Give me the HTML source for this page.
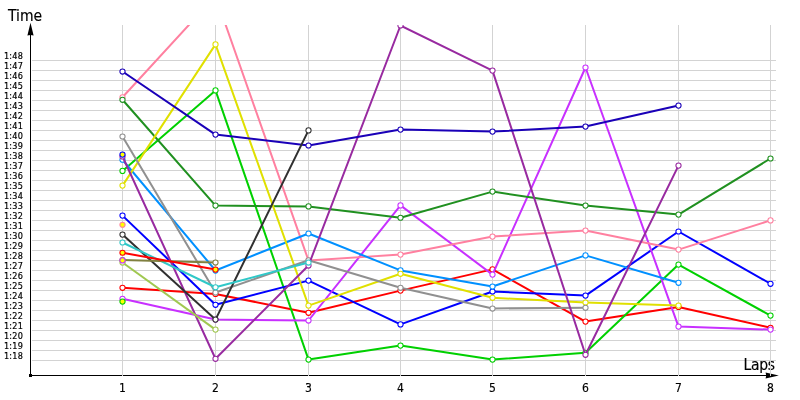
<!DOCTYPE html>
<html lang="en">
<head>
<meta charset="utf-8">
<title>Lap times</title>
<style>
html,body{margin:0;padding:0;background:#fff;}
body{width:800px;height:400px;overflow:hidden;font-family:"Liberation Sans",sans-serif;}
svg{display:block;}
text{font-family:"DejaVu Sans Condensed","Liberation Sans",sans-serif;fill:#000;stroke:#000;}
.yl{font-size:9px;stroke-width:0.2px;letter-spacing:0.2px;}
.xl{font-size:12px;text-anchor:middle;stroke-width:0.15px;}
.t{font-size:15.5px;stroke-width:0.15px;}
.s polyline{stroke-width:2;fill:none;stroke-linejoin:round;}
.s circle{stroke-width:1.05;fill:#fff;}
.s circle.y{fill:#ffff00;}
</style>
</head>
<body>
<svg width="800" height="400" viewBox="0 0 800 400" role="img" aria-label="Lap time chart">
<defs><clipPath id="plot"><rect x="30" y="25" width="760" height="352"/></clipPath></defs>
<rect width="800" height="400" fill="#fff"/>

<g stroke="#d3d3d3" stroke-width="1" shape-rendering="crispEdges">
<line x1="32" y1="60.5" x2="776" y2="60.5"/>
<line x1="32" y1="70.5" x2="776" y2="70.5"/>
<line x1="32" y1="80.5" x2="776" y2="80.5"/>
<line x1="32" y1="90.5" x2="776" y2="90.5"/>
<line x1="32" y1="100.5" x2="776" y2="100.5"/>
<line x1="32" y1="110.5" x2="776" y2="110.5"/>
<line x1="32" y1="120.5" x2="776" y2="120.5"/>
<line x1="32" y1="130.5" x2="776" y2="130.5"/>
<line x1="32" y1="140.5" x2="776" y2="140.5"/>
<line x1="32" y1="150.5" x2="776" y2="150.5"/>
<line x1="32" y1="160.5" x2="776" y2="160.5"/>
<line x1="32" y1="170.5" x2="776" y2="170.5"/>
<line x1="32" y1="180.5" x2="776" y2="180.5"/>
<line x1="32" y1="190.5" x2="776" y2="190.5"/>
<line x1="32" y1="200.5" x2="776" y2="200.5"/>
<line x1="32" y1="210.5" x2="776" y2="210.5"/>
<line x1="32" y1="220.5" x2="776" y2="220.5"/>
<line x1="32" y1="230.5" x2="776" y2="230.5"/>
<line x1="32" y1="240.5" x2="776" y2="240.5"/>
<line x1="32" y1="250.5" x2="776" y2="250.5"/>
<line x1="32" y1="260.5" x2="776" y2="260.5"/>
<line x1="32" y1="270.5" x2="776" y2="270.5"/>
<line x1="32" y1="280.5" x2="776" y2="280.5"/>
<line x1="32" y1="290.5" x2="776" y2="290.5"/>
<line x1="32" y1="300.5" x2="776" y2="300.5"/>
<line x1="32" y1="310.5" x2="776" y2="310.5"/>
<line x1="32" y1="320.5" x2="776" y2="320.5"/>
<line x1="32" y1="330.5" x2="776" y2="330.5"/>
<line x1="32" y1="340.5" x2="776" y2="340.5"/>
<line x1="32" y1="350.5" x2="776" y2="350.5"/>
<line x1="32" y1="360.5" x2="776" y2="360.5"/>
</g>
<g fill="#000" shape-rendering="crispEdges">
<rect x="30" y="35" width="1" height="341"/>
<rect x="30" y="375" width="737" height="1"/>
<rect x="29" y="374" width="3" height="3"/>
</g>
<polygon points="30.5,22.7 33.6,35.6 30.5,35 27.4,35.6" fill="#000"/>
<polygon points="778.8,375.5 765.6,378.6 766.2,375.5 765.6,372.4" fill="#000"/>
<text class="t" x="8" y="20.6">Time</text>
<text class="t" x="743.6" y="369.5" style="letter-spacing:-0.3px">Laps</text>
<g stroke="#d3d3d3" stroke-width="1" shape-rendering="crispEdges">
<line x1="122.5" y1="25" x2="122.5" y2="376"/>
<line x1="215.5" y1="25" x2="215.5" y2="376"/>
<line x1="308.5" y1="25" x2="308.5" y2="376"/>
<line x1="400.5" y1="25" x2="400.5" y2="376"/>
<line x1="492.5" y1="25" x2="492.5" y2="376"/>
<line x1="585.5" y1="25" x2="585.5" y2="376"/>
<line x1="678.5" y1="25" x2="678.5" y2="376"/>
<line x1="770.5" y1="25" x2="770.5" y2="376"/>
</g>
<g class="s" clip-path="url(#plot)">
<g stroke="#ff0000">
<polyline points="122.5,287.75 215.5,293.9 308.5,312.75 400.5,290.6 492.5,269.4 585.5,321.6 678.5,306.9 770.5,327.75"/>
<circle cx="122.5" cy="287.75" r="2.6"/>
<circle cx="215.5" cy="293.9" r="2.6"/>
<circle cx="308.5" cy="312.75" r="2.6"/>
<circle cx="400.5" cy="290.6" r="2.6"/>
<circle cx="492.5" cy="269.4" r="2.6"/>
<circle cx="585.5" cy="321.6" r="2.6"/>
<circle cx="678.5" cy="306.9" r="2.6"/>
<circle cx="770.5" cy="327.75" r="2.6"/>
</g>
<g stroke="#00d000">
<polyline points="122.5,170.9 215.5,90.4 308.5,359.6 400.5,345.6 492.5,359.6 585.5,352.75 678.5,264.6 770.5,315.6"/>
<circle cx="122.5" cy="170.9" r="2.6"/>
<circle cx="215.5" cy="90.4" r="2.6"/>
<circle cx="308.5" cy="359.6" r="2.6"/>
<circle cx="400.5" cy="345.6" r="2.6"/>
<circle cx="492.5" cy="359.6" r="2.6"/>
<circle cx="585.5" cy="352.75" r="2.6"/>
<circle cx="678.5" cy="264.6" r="2.6"/>
<circle cx="770.5" cy="315.6" r="2.6"/>
</g>
<g stroke="#0000ff">
<polyline points="122.5,215.6 215.5,304.75 308.5,280.6 400.5,324.4 492.5,291.5 585.5,295.6 678.5,231.5 770.5,283.75"/>
<circle cx="122.5" cy="215.6" r="2.6"/>
<circle cx="215.5" cy="304.75" r="2.6"/>
<circle cx="308.5" cy="280.6" r="2.6"/>
<circle cx="400.5" cy="324.4" r="2.6"/>
<circle cx="492.5" cy="291.5" r="2.6"/>
<circle cx="585.5" cy="295.6" r="2.6"/>
<circle cx="678.5" cy="231.5" r="2.6"/>
<circle cx="770.5" cy="283.75" r="2.6"/>
</g>
<g stroke="#c830ff">
<polyline points="122.5,298.75 215.5,319.6 308.5,320.5 400.5,205.4 492.5,274.6 585.5,67.5 678.5,326.6 770.5,329.6"/>
<circle cx="122.5" cy="298.75" r="2.6"/>
<circle cx="215.5" cy="319.6" r="2.6"/>
<circle cx="308.5" cy="320.5" r="2.6"/>
<circle cx="400.5" cy="205.4" r="2.6"/>
<circle cx="492.5" cy="274.6" r="2.6"/>
<circle cx="585.5" cy="67.5" r="2.6"/>
<circle cx="678.5" cy="326.6" r="2.6"/>
<circle cx="770.5" cy="329.6" r="2.6"/>
</g>
<g stroke="#ff80a0">
<polyline points="122.5,97.25 215.5,-4 308.5,260.5 400.5,254.6 492.5,236.6 585.5,230.6 678.5,249.6 770.5,220.4"/>
<circle cx="122.5" cy="97.25" r="2.6"/>
<circle cx="215.5" cy="-4" r="2.6"/>
<circle cx="308.5" cy="260.5" r="2.6"/>
<circle cx="400.5" cy="254.6" r="2.6"/>
<circle cx="492.5" cy="236.6" r="2.6"/>
<circle cx="585.5" cy="230.6" r="2.6"/>
<circle cx="678.5" cy="249.6" r="2.6"/>
<circle cx="770.5" cy="220.4" r="2.6"/>
</g>
<g stroke="#0090ff">
<polyline points="122.5,159.75 215.5,270.5 308.5,233.5 400.5,270.4 492.5,286.5 585.5,255.4 678.5,282.75"/>
<circle cx="122.5" cy="159.75" r="2.6"/>
<circle cx="215.5" cy="270.5" r="2.6"/>
<circle cx="308.5" cy="233.5" r="2.6"/>
<circle cx="400.5" cy="270.4" r="2.6"/>
<circle cx="492.5" cy="286.5" r="2.6"/>
<circle cx="585.5" cy="255.4" r="2.6"/>
<circle cx="678.5" cy="282.75" r="2.6"/>
</g>
<g stroke="#209020">
<polyline points="122.5,99.75 215.5,205.6 308.5,206.4 400.5,217.75 492.5,191.6 585.5,205.6 678.5,214.6 770.5,158.5"/>
<circle cx="122.5" cy="99.75" r="2.6"/>
<circle cx="215.5" cy="205.6" r="2.6"/>
<circle cx="308.5" cy="206.4" r="2.6"/>
<circle cx="400.5" cy="217.75" r="2.6"/>
<circle cx="492.5" cy="191.6" r="2.6"/>
<circle cx="585.5" cy="205.6" r="2.6"/>
<circle cx="678.5" cy="214.6" r="2.6"/>
<circle cx="770.5" cy="158.5" r="2.6"/>
</g>
<g stroke="#e0e000">
<polyline points="122.5,185.6 215.5,44.4 308.5,305.6 400.5,273.75 492.5,297.75 585.5,302.5 678.5,305.6"/>
<circle cx="122.5" cy="185.6" r="2.6"/>
<circle cx="215.5" cy="44.4" r="2.6"/>
<circle cx="308.5" cy="305.6" r="2.6"/>
<circle cx="400.5" cy="273.75" r="2.6"/>
<circle cx="492.5" cy="297.75" r="2.6"/>
<circle cx="585.5" cy="302.5" r="2.6"/>
<circle cx="678.5" cy="305.6" r="2.6"/>
</g>
<g stroke="#909090">
<polyline points="122.5,136.5 215.5,292.5 308.5,260.25 400.5,287.75 492.5,308.5 585.5,307.75"/>
<circle cx="122.5" cy="136.5" r="2.6"/>
<circle cx="215.5" cy="292.5" r="2.6"/>
<circle cx="308.5" cy="260.25" r="2.6"/>
<circle cx="400.5" cy="287.75" r="2.6"/>
<circle cx="492.5" cy="308.5" r="2.6"/>
<circle cx="585.5" cy="307.75" r="2.6"/>
</g>
<g stroke="#982aa0">
<polyline points="122.5,156.5 215.5,358.75 308.5,265.5 400.5,25.5 492.5,70.6 585.5,354.75 678.5,165.6"/>
<circle cx="122.5" cy="156.5" r="2.6"/>
<circle cx="215.5" cy="358.75" r="2.6"/>
<circle cx="308.5" cy="265.5" r="2.6"/>
<circle cx="400.5" cy="25.5" r="2.6"/>
<circle cx="492.5" cy="70.6" r="2.6"/>
<circle cx="585.5" cy="354.75" r="2.6"/>
<circle cx="678.5" cy="165.6" r="2.6"/>
</g>
<g stroke="#1a00b8">
<polyline points="122.5,71.5 215.5,134.6 308.5,145.5 400.5,129.6 492.5,131.6 585.5,126.6 678.5,105.6"/>
<circle cx="122.5" cy="71.5" r="2.6"/>
<circle cx="215.5" cy="134.6" r="2.6"/>
<circle cx="308.5" cy="145.5" r="2.6"/>
<circle cx="400.5" cy="129.6" r="2.6"/>
<circle cx="492.5" cy="131.6" r="2.6"/>
<circle cx="585.5" cy="126.6" r="2.6"/>
<circle cx="678.5" cy="105.6" r="2.6"/>
</g>
<g stroke="#303030">
<polyline points="122.5,234.6 215.5,319.6 308.5,130.4"/>
<circle cx="122.5" cy="234.6" r="2.6"/>
<circle cx="215.5" cy="319.6" r="2.6"/>
<circle cx="308.5" cy="130.4" r="2.6"/>
</g>
<g stroke="#30c8c8">
<polyline points="122.5,242.5 215.5,287.25 308.5,262.5"/>
<circle cx="122.5" cy="242.5" r="2.6"/>
<circle cx="215.5" cy="287.25" r="2.6"/>
<circle cx="308.5" cy="262.5" r="2.6"/>
</g>
<g stroke="#808040">
<polyline points="122.5,260 215.5,262.5"/>
<circle cx="122.5" cy="260" r="2.6"/>
<circle cx="215.5" cy="262.5" r="2.6"/>
</g>
<g stroke="#a0c850">
<polyline points="122.5,262.5 215.5,329.6"/>
<circle cx="122.5" cy="262.5" r="2.6"/>
<circle cx="215.5" cy="329.6" r="2.6"/>
</g>
<g stroke="#ff0000">
<polyline points="122.5,252.75 215.5,269.6"/>
<circle class="y" cx="122.5" cy="252.75" r="2.6"/>
<circle class="y" cx="215.5" cy="269.6" r="2.6"/>
</g>
<g stroke="#0000ff">
<circle class="y" cx="122.5" cy="154.6" r="2.6"/>
</g>
<g stroke="#ff80a0">
<circle class="y" cx="122.5" cy="224.75" r="2.6"/>
</g>
<g stroke="#c830ff">
<circle class="y" cx="122.5" cy="260.4" r="2.6"/>
</g>
<g stroke="#00d000">
<circle class="y" cx="122.5" cy="301.6" r="2.6"/>
</g>
</g>
<text class="yl" x="4" y="58.9">1:48</text>
<text class="yl" x="4" y="68.9">1:47</text>
<text class="yl" x="4" y="78.9">1:46</text>
<text class="yl" x="4" y="88.9">1:45</text>
<text class="yl" x="4" y="98.9">1:44</text>
<text class="yl" x="4" y="108.9">1:43</text>
<text class="yl" x="4" y="118.9">1:42</text>
<text class="yl" x="4" y="128.9">1:41</text>
<text class="yl" x="4" y="138.9">1:40</text>
<text class="yl" x="4" y="148.9">1:39</text>
<text class="yl" x="4" y="158.9">1:38</text>
<text class="yl" x="4" y="168.9">1:37</text>
<text class="yl" x="4" y="178.9">1:36</text>
<text class="yl" x="4" y="188.9">1:35</text>
<text class="yl" x="4" y="198.9">1:34</text>
<text class="yl" x="4" y="208.9">1:33</text>
<text class="yl" x="4" y="218.9">1:32</text>
<text class="yl" x="4" y="228.9">1:31</text>
<text class="yl" x="4" y="238.9">1:30</text>
<text class="yl" x="4" y="248.9">1:29</text>
<text class="yl" x="4" y="258.9">1:28</text>
<text class="yl" x="4" y="268.9">1:27</text>
<text class="yl" x="4" y="278.9">1:26</text>
<text class="yl" x="4" y="288.9">1:25</text>
<text class="yl" x="4" y="298.9">1:24</text>
<text class="yl" x="4" y="308.9">1:23</text>
<text class="yl" x="4" y="318.9">1:22</text>
<text class="yl" x="4" y="328.9">1:21</text>
<text class="yl" x="4" y="338.9">1:20</text>
<text class="yl" x="4" y="348.9">1:19</text>
<text class="yl" x="4" y="358.9">1:18</text>
<text class="xl" x="122.5" y="392">1</text>
<text class="xl" x="215.5" y="392">2</text>
<text class="xl" x="308.5" y="392">3</text>
<text class="xl" x="400.5" y="392">4</text>
<text class="xl" x="492.5" y="392">5</text>
<text class="xl" x="585.5" y="392">6</text>
<text class="xl" x="678.5" y="392">7</text>
<text class="xl" x="770.5" y="392">8</text>
</svg>
</body>
</html>
